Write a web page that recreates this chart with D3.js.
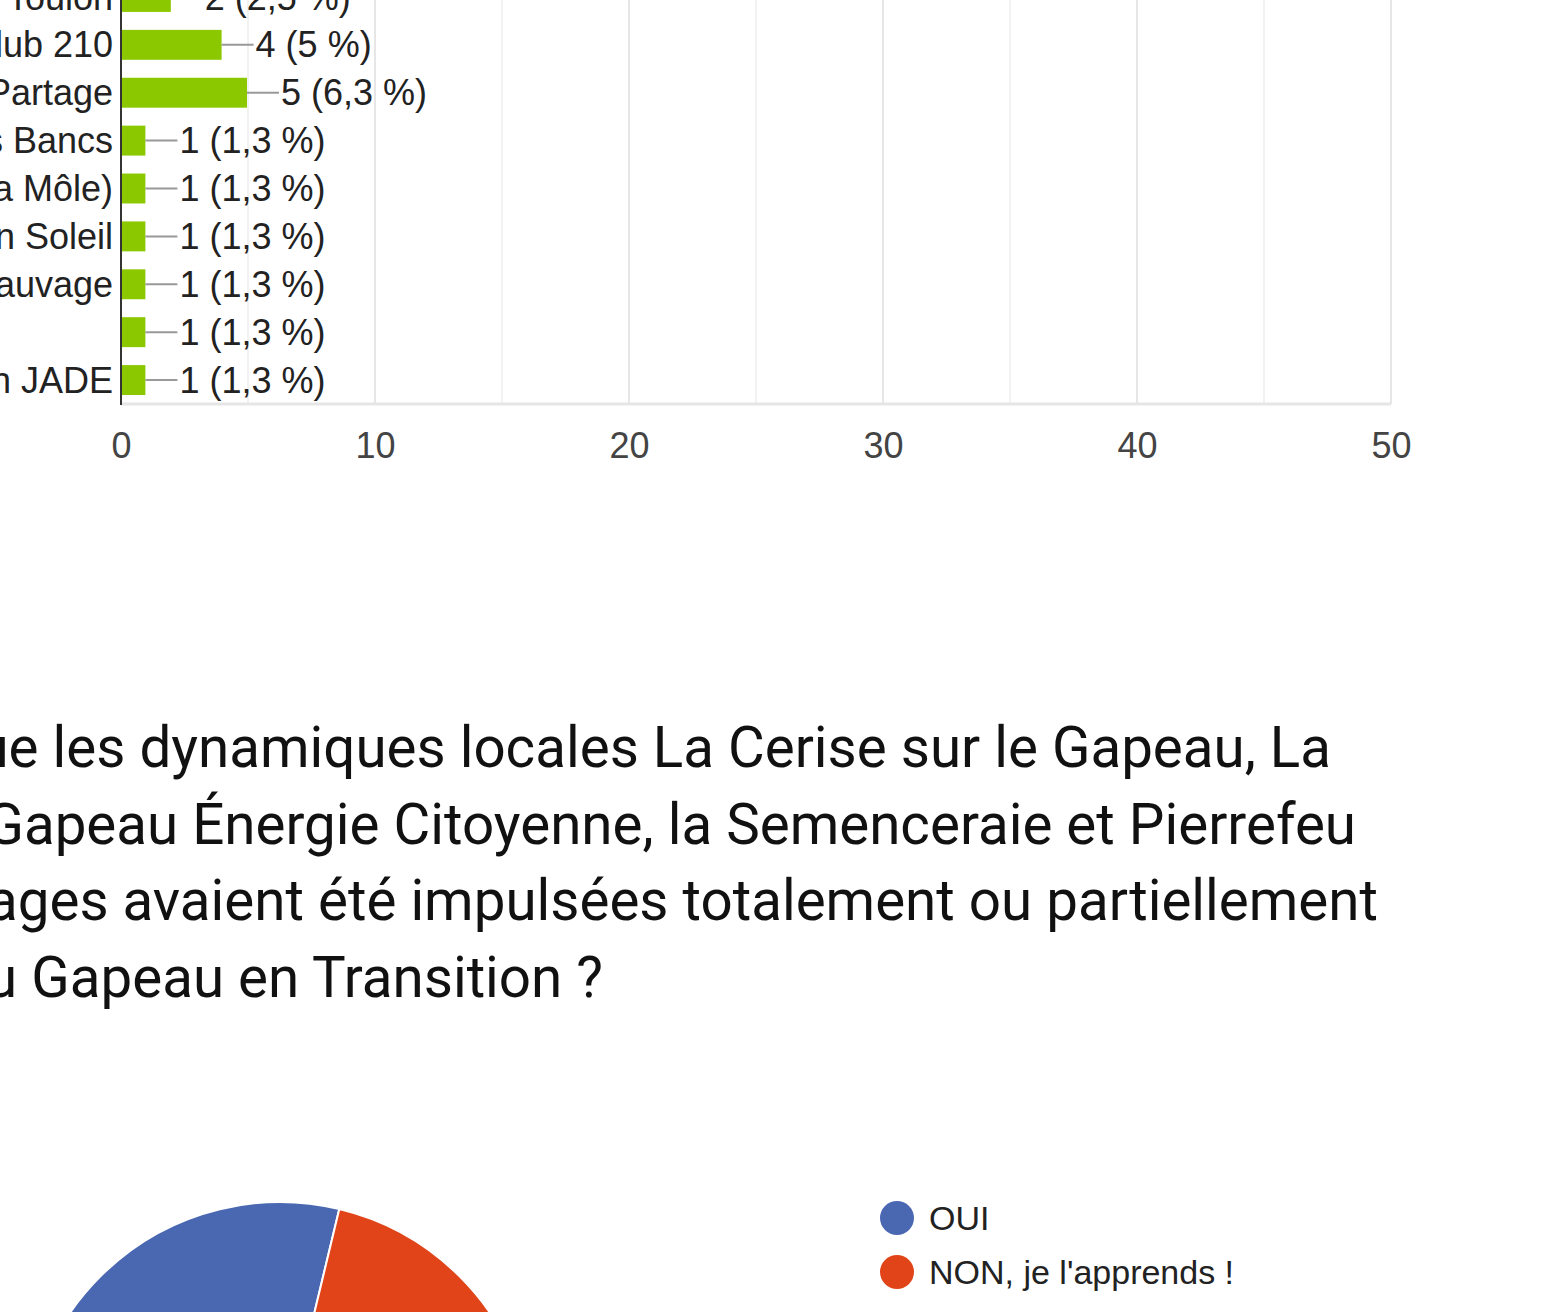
<!DOCTYPE html>
<html>
<head>
<meta charset="utf-8">
<script src="https://cdn.jsdelivr.net/npm/d3@7"></script>
<style>
  body { margin: 0; background: #fff; }
  svg { display: block; }
</style>
</head>
<body>
<div id="chart"></div>
<script>
// bar chart: answers per structure (only the bottom rows are in view)
var categories = ["Colibris Toulon", "Le Club 210", "Jardin du Partage", "Les Bancs",
                  "AMAP (La Môle)", "Jardin Soleil", "Jardin Sauvage", "", "Association JADE"];
var counts = [2, 4, 5, 1, 1, 1, 1, 1, 1];
var totalResponses = 80;
var xTicks = [0, 10, 20, 30, 40, 50];

// question text, one entry per visible line
var questionLines = [
  "Saviez-vous que les dynamiques locales La Cerise sur le Gapeau, La",
  "Ruche du Gapeau Énergie Citoyenne, la Semenceraie et Pierrefeu",
  "Partages avaient été impulsées totalement ou partiellement",
  "par l'association du Gapeau en Transition ?"
];

// pie: answers to the question
var pieLabels = ["OUI", "NON, je l'apprends !"];
var pieValues = [52, 28];
var pieColors = ["#4a67b2", "#e04418"];

var width = 1558,
    height = 1312;

var svg = d3.select("#chart").append("svg")
    .attr("width", width)
    .attr("height", height);

//----- bar chart -----
var x = d3.scaleLinear().domain([0, 50]).range([121, 1391]);
var y = d3.scaleBand().domain(d3.range(categories.length))
    .range([-27, 404]).paddingInner(0.375).paddingOuter(0.1875);

var bars = svg.append("g");

// gridlines every 5
bars.selectAll("line.grid")
    .data(d3.range(5, 51, 5))
    .enter().append("line")
    .attr("x1", d => x(d)).attr("x2", d => x(d))
    .attr("y1", -27).attr("y2", 404)
    .attr("stroke", d => d % 10 == 0 ? "#e6e6e6" : "#f2f2f2")
    .attr("stroke-width", 2);

bars.append("line")
    .attr("x1", x(0)).attr("x2", x(50))
    .attr("y1", 404).attr("y2", 404)
    .attr("stroke", "#e6e6e6").attr("stroke-width", 3);

bars.selectAll("rect")
    .data(counts)
    .enter().append("rect")
    .attr("x", x(0))
    .attr("y", (d, i) => y(i))
    .attr("width", d => x(d) - x(0) - 1)
    .attr("height", y.bandwidth())
    .attr("fill", "#8bc800");

// axis line
bars.append("line")
    .attr("x1", x(0)).attr("x2", x(0))
    .attr("y1", -27).attr("y2", 405)
    .attr("stroke", "#333").attr("stroke-width", 2);

// category labels
bars.selectAll("text.cat")
    .data(categories)
    .enter().append("text")
    .attr("x", 113)
    .attr("y", (d, i) => y(i) + y.bandwidth() / 2)
    .attr("dy", "0.35em")
    .attr("text-anchor", "end")
    .style("font", "36px 'Liberation Sans', Arial, sans-serif")
    .style("fill", "#222")
    .text(d => d);

function pct(v) {
  var p = (v / totalResponses * 100).toFixed(1).replace(/\.0$/, "").replace(".", ",");
  return v + " (" + p + " %)";
}

// leader lines and value labels
bars.selectAll("line.lead")
    .data(counts)
    .enter().append("line")
    .attr("x1", d => x(d) - 1).attr("x2", d => x(d) + 31)
    .attr("y1", (d, i) => y(i) + y.bandwidth() / 2)
    .attr("y2", (d, i) => y(i) + y.bandwidth() / 2)
    .attr("stroke", "#999").attr("stroke-width", 2);

bars.selectAll("text.val")
    .data(counts)
    .enter().append("text")
    .attr("x", d => x(d) + 33)
    .attr("y", (d, i) => y(i) + y.bandwidth() / 2)
    .attr("dy", "0.35em")
    .style("font", "36px 'Liberation Sans', Arial, sans-serif")
    .style("fill", "#222")
    .text(d => pct(d));

var xAxis = bars.append("g")
    .attr("transform", "translate(0,404)")
    .call(d3.axisBottom(x).tickValues(xTicks).tickSize(0).tickPadding(28));
xAxis.select(".domain").remove();
xAxis.selectAll("text")
    .style("font", "36px 'Liberation Sans', Arial, sans-serif")
    .style("fill", "#444");

//----- question title -----
var lineEnds = [1331, 1356, 1378, 603];
svg.append("g").selectAll("text")
    .data(questionLines)
    .enter().append("text")
    .attr("x", (d, i) => lineEnds[i])
    .attr("y", (d, i) => 767 + i * 76.5)
    .attr("text-anchor", "end")
    .style("font", "56.5px Roboto, sans-serif")
    .style("fill", "#111")
    .text(d => d);

//----- pie -----
var pie = d3.pie().sort(null)
    .startAngle(13.5 * Math.PI / 180 - 2 * Math.PI * pieValues[0] / d3.sum(pieValues));
pie.endAngle(pie.startAngle()() + 2 * Math.PI);
var arc = d3.arc().innerRadius(0).outerRadius(254);

svg.append("g")
    .attr("transform", "translate(280,1456)")
    .selectAll("path")
    .data(pie(pieValues))
    .enter().append("path")
    .attr("d", arc)
    .attr("fill", (d, i) => pieColors[i])
    .attr("stroke", "#fff").attr("stroke-width", 2);

var legend = svg.append("g").selectAll("g")
    .data(pieLabels)
    .enter().append("g")
    .attr("transform", (d, i) => "translate(897," + (1218 + i * 54) + ")");
legend.append("circle").attr("r", 17).attr("fill", (d, i) => pieColors[i]);
legend.append("text")
    .attr("x", 32).attr("dy", "0.35em")
    .style("font", "34px 'Liberation Sans', Arial, sans-serif")
    .style("fill", "#222")
    .text(d => d);
</script>
</body>
</html>
